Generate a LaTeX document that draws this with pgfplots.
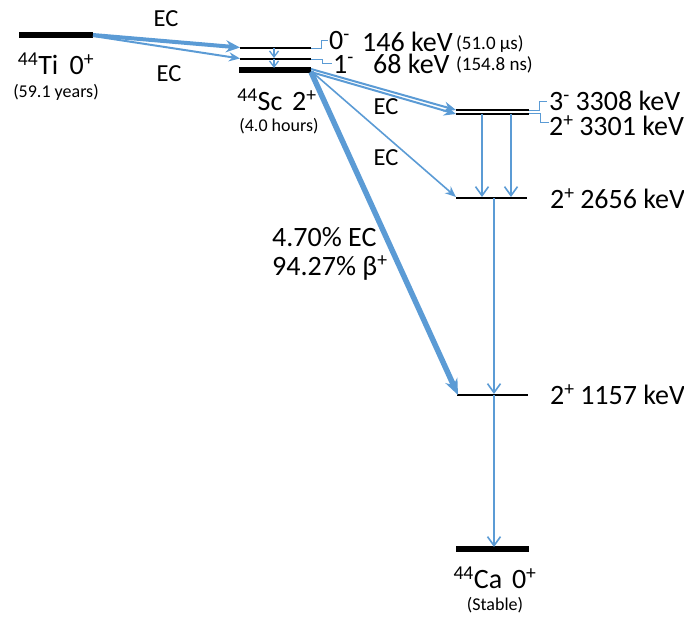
\documentclass[border=0pt]{standalone}
\usepackage{pgfplots}
\pgfplotsset{compat=1.18}
\usepackage{fontspec}
\setmainfont{Carlito}
\usetikzlibrary{arrows.meta}
\definecolor{ecblue}{HTML}{5B9BD5}
\newcommand\fL{\fontsize{28}{32}\selectfont}
\newcommand\fM{\fontsize{24.5}{28}\selectfont}
\newcommand\fS{\fontsize{18}{21}\selectfont}
\newcommand\fT{\fontsize{19}{22}\selectfont}
\tikzset{
  lvl/.style={black, line width=1.5pt},
  gnd/.style={black, line width=5.5pt},
  ec/.style={ecblue, -{Stealth[length=14pt,width=12pt]}},
  gam/.style={ecblue, line width=1.6pt, -{Straight Barb[length=9pt,width=13pt]}},
  brk/.style={ecblue, line width=1pt},
  txt/.style={inner sep=0pt, anchor=west},
  ctr/.style={inner sep=0pt},
}
\begin{document}
\begin{tikzpicture}
\begin{axis}[
  scale only axis, width=684pt, height=619pt,
  xmin=0, xmax=684, ymin=0, ymax=619, y dir=reverse,
  hide axis, clip=false, no markers,
  every axis plot/.append style={line cap=butt},
]
% levels
\addplot[gnd] coordinates {(19,35) (93,35)};
\addplot[lvl] coordinates {(240,48) (311,48)};
\addplot[lvl] coordinates {(240,59) (311,59)};
\addplot[gnd] coordinates {(239,70) (311,70)};
\addplot[lvl, line width=2.2pt] coordinates {(456,110) (529,110)};
\addplot[lvl, line width=2.2pt] coordinates {(456,113.6) (529,113.6)};
\addplot[lvl] coordinates {(456,198) (527,198)};
\addplot[lvl] coordinates {(457,395) (528,395)};
\addplot[gnd] coordinates {(456,549) (529,549)};
% level label brackets
\addplot[brk] coordinates {(311,48) (321,48) (321,40) (328,40)};
\addplot[brk] coordinates {(311,59) (322,59) (322,63) (332,63)};
\addplot[brk] coordinates {(529,110) (539,110) (539,101) (547,101)};
\addplot[brk] coordinates {(529,113.6) (540,113.6) (540,122) (549,122)};
% EC decays of 44Ti
\addplot[ec, line width=4pt] coordinates {(93,35) (240,47.5)};
\addplot[ec, line width=2pt, -{Stealth[length=11pt,width=9pt]}] coordinates {(93,36) (240,58.5)};
% 44Sc isomer transitions
\addplot[gam, line width=1.3pt, -{Straight Barb[length=6pt,width=9pt]}] coordinates {(274,48) (274,58)};
\addplot[gam, line width=1.3pt, -{Straight Barb[length=6pt,width=9pt]}] coordinates {(274,59) (274,68)};
% EC / beta+ from 44Sc
\addplot[ec, line width=2pt, -{Stealth[length=12pt,width=10pt]}] coordinates {(311,69) (456,110)};
\addplot[ec, line width=2pt, -{Stealth[length=12pt,width=10pt]}] coordinates {(311,72) (456,114)};
\addplot[ec, line width=1.6pt, -{Stealth[length=11pt,width=9pt]}] coordinates {(311,71) (456,197)};
\addplot[ec, line width=5.5pt, -{Stealth[length=16pt,width=13pt]}] coordinates {(311,72) (458,395)};
% gamma cascade in 44Ca
\addplot[gam] coordinates {(482,114) (482,197)};
\addplot[gam] coordinates {(511,114) (511,197)};
\addplot[gam] coordinates {(494,198) (494,394)};
\addplot[gam] coordinates {(494,395) (494,547)};
% labels
\node[ctr] at (axis cs:166,19) {\fM EC};
\node[ctr] at (axis cs:169,74) {\fM EC};
\node[ctr] at (axis cs:56,64) {\fL\textsuperscript{44}Ti\hspace{0.4em}0\textsuperscript{+}};
\node[ctr] at (axis cs:56,92) {\fS(59.1 years)};
\node[ctr] at (axis cs:277,100) {\fL\textsuperscript{44}Sc\hspace{0.35em}2\textsuperscript{+}};
\node[ctr] at (axis cs:279,126) {\fS(4.0 hours)};
\node[txt] at (axis cs:329,41) {\fL 0\textsuperscript{-}};
\node[txt] at (axis cs:362,42) {\fL 146 keV};
\node[txt] at (axis cs:456,44) {\fT(51.0 μs)};
\node[txt] at (axis cs:333,64) {\fL 1\textsuperscript{-}};
\node[txt] at (axis cs:373,64) {\fL 68 keV};
\node[txt] at (axis cs:456,65) {\fT(154.8 ns)};
\node[ctr] at (axis cs:386,107) {\fM EC};
\node[ctr] at (axis cs:386,158) {\fM EC};
\node[txt] at (axis cs:549,101) {\fL 3\textsuperscript{-}\hspace{0.2em}3308 keV};
\node[txt] at (axis cs:549,126) {\fL 2\textsuperscript{+}\hspace{0.2em}3301 keV};
\node[txt] at (axis cs:550,199) {\fL 2\textsuperscript{+}\hspace{0.2em}2656 keV};
\node[txt] at (axis cs:550,395) {\fL 2\textsuperscript{+}\hspace{0.2em}1157 keV};
\node[txt] at (axis cs:272,237) {\fL 4.70\% EC};
\node[txt] at (axis cs:272,268) {\fL 94.27\% β\textsuperscript{+}};
\node[ctr] at (axis cs:495,578) {\fL\textsuperscript{44}Ca\hspace{0.35em}0\textsuperscript{+}};
\node[ctr] at (axis cs:495,605) {\fS(Stable)};
\end{axis}
\pgfresetboundingbox
\path (current axis.south west) rectangle (current axis.north east);
\end{tikzpicture}
\end{document}
